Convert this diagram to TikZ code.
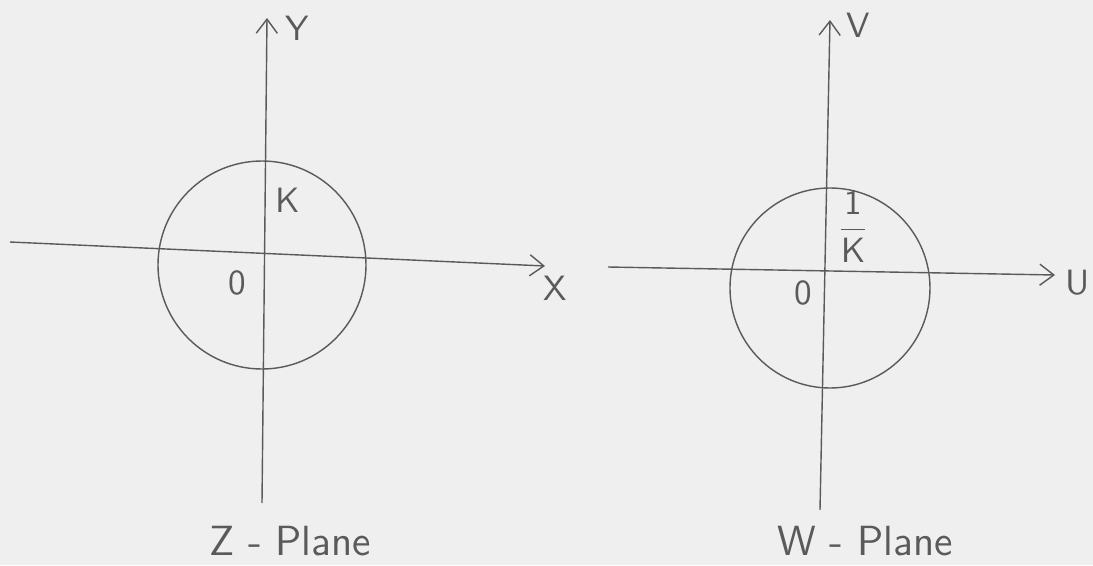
\documentclass[tikz,border=0pt]{standalone}
\usepackage{tikz}
\usetikzlibrary{arrows.meta,positioning,calc}
\usepackage{xcolor}
\definecolor{paper}{HTML}{EFEFEF}
\definecolor{pencil}{HTML}{5A5A5A}

\begin{document}
\begin{tikzpicture}[
  every node/.style={font=\sffamily, text=pencil},
  axis/.style={-{Straight Barb[length=4pt,width=6pt]}, thin, draw=pencil},
  ring/.style={thin, draw=pencil}
]
  \fill[paper] (0,0) rectangle (10.93,5.65);
  \useasboundingbox (0,0) rectangle (10.93,5.65);

  % Z-plane
  \coordinate (zyb) at (2.62,0.62);
  \coordinate (zyt) at (2.67,5.47);
  \coordinate (zxl) at (0.10,3.23);
  \coordinate (zxr) at (5.45,2.99);
  \draw[axis] (zyb) -- (zyt);
  \draw[axis] (zxl) -- (zxr);
  \draw[ring] (2.62,3.00) circle (1.04);
  \node (zY) at (2.97,5.37) {Y};
  \node (zX) at (5.55,2.77) {X};
  \node (zK) at (2.88,3.65) {K};
  \node (zO) at (2.37,2.82) {0};
  \node (zname) at (2.90,0.24) {\large Z - Plane};

  % W-plane
  \coordinate (wvb) at (8.20,0.55);
  \coordinate (wvt) at (8.30,5.45);
  \coordinate (wul) at (6.08,2.98);
  \coordinate (wur) at (10.55,2.90);
  \draw[axis] (wvb) -- (wvt);
  \draw[axis] (wul) -- (wur);
  \draw[ring] (8.30,2.77) circle (1.00);
  \node (wV) at (8.58,5.40) {V};
  \node (wU) at (10.78,2.82) {U};
  \node (wK) at (8.53,3.38) {$\displaystyle\frac{\mathsf{1}}{\mathsf{K}}$};
  \node (wO) at (8.03,2.72) {0};
  \node (wname) at (8.65,0.24) {\large W - Plane};
\end{tikzpicture}
\end{document}
